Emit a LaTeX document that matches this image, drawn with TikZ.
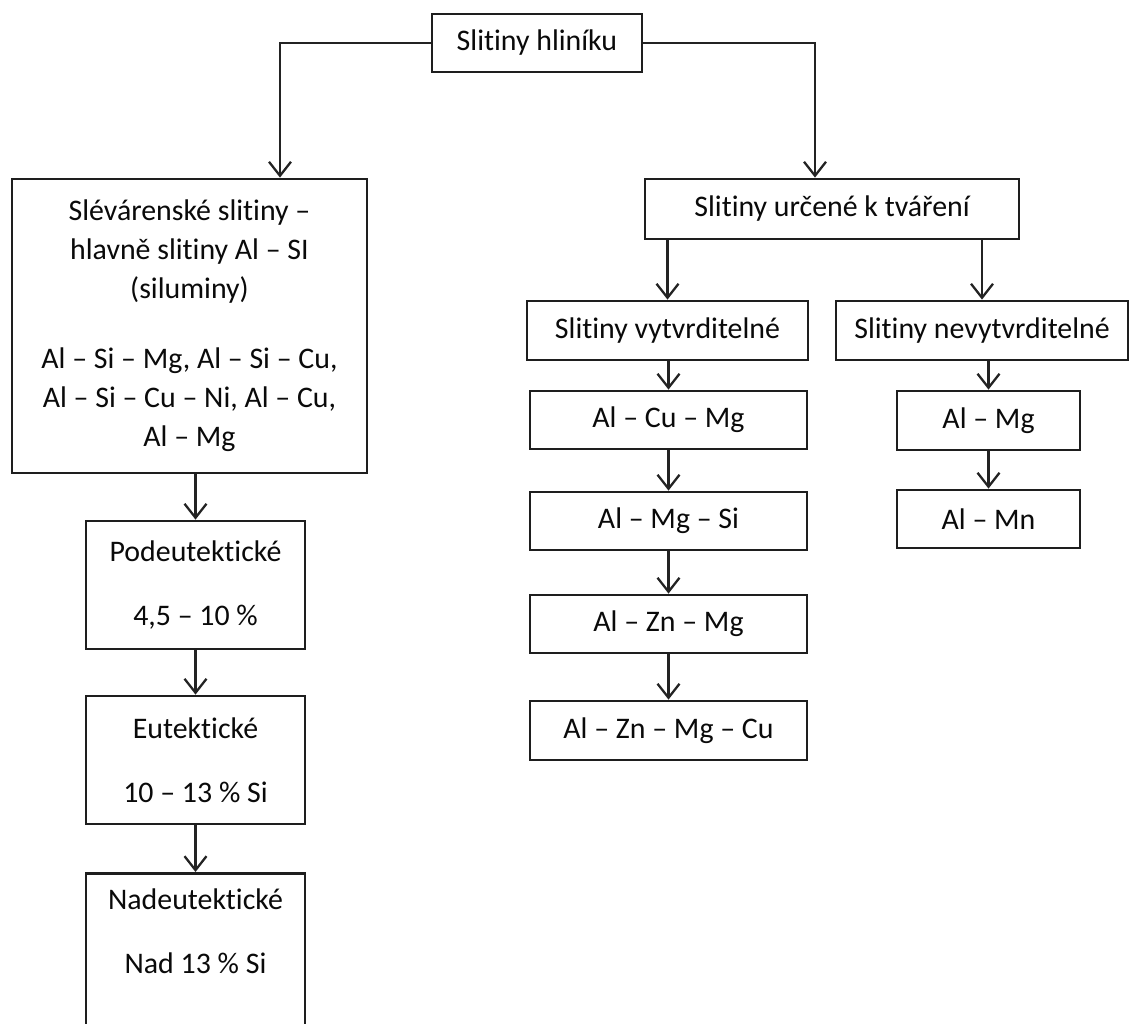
\documentclass[tikz,border=0pt]{standalone}
\usepackage{fontspec}
\setmainfont{Carlito}[RawFeature={-liga;-clig;-calt}]
\usepackage{tikz}
\usetikzlibrary{arrows.meta}
\definecolor{boxline}{RGB}{30, 30, 30}
\definecolor{flowline}{RGB}{35, 35, 35}
\definecolor{labeltext}{RGB}{10, 10, 10}

\begin{document}
\begin{tikzpicture}[x=0.02cm, y=-0.02cm,
    alloybox/.style={draw=boxline, line width=1.6pt, fill=white, text=labeltext, align=center, inner sep=2pt, font=\fontsize{17}{22.2}\selectfont},
    flow/.style={draw=flowline, line width=1.3pt, -{Straight Barb[length=0.28cm, width=0.44cm]}}]
    \useasboundingbox (0, 0) rectangle (1131, 1023);
    \clip (0, 0) rectangle (1131, 1023);

    % Root
    \node[alloybox, minimum width=4.2cm, minimum height=1.16cm] (top) at (537, 43) {Slitiny hliníku};

    % Casting alloys (left branch)
    \node[alloybox, minimum width=7.1cm, minimum height=5.88cm] (slev) at (189.5, 326) {Slévárenské slitiny –\\hlavně slitiny Al – SI\\(siluminy)\\[0.62cm]Al – Si – Mg, Al – Si – Cu,\\Al – Si – Cu – Ni, Al – Cu,\\Al – Mg};
    \node[alloybox, minimum width=4.38cm, minimum height=2.56cm] (pod) at (195.5, 585) {Podeutektické\\[0.5cm]4,5 – 10 \%};
    \node[alloybox, minimum width=4.38cm, minimum height=2.56cm] (eut) at (195.5, 760) {Eutektické\\[0.5cm]10 – 13 \% Si};
    \node[alloybox, minimum width=4.38cm, anchor=north, inner ysep=0.3cm, text depth=3cm] (nad) at (195.5, 872) {Nadeutektické\\[0.5cm]Nad 13 \% Si};

    % Wrought alloys (right branch)
    \node[alloybox, minimum width=7.48cm, minimum height=1.2cm] (urc) at (832, 209) {Slitiny určené k tváření};
    \node[alloybox, minimum width=5.62cm, minimum height=1.18cm] (vyt) at (667.5, 330.5) {Slitiny vytvrditelné};
    \node[alloybox, minimum width=5.84cm, minimum height=1.18cm] (nevyt) at (982, 330.5) {Slitiny nevytvrditelné};

    % Heat treatable series
    \node[alloybox, minimum width=5.54cm, minimum height=1.16cm] (acm) at (668.5, 420) {Al – Cu – Mg};
    \node[alloybox, minimum width=5.54cm, minimum height=1.16cm] (amgsi) at (668.5, 521) {Al – Mg – Si};
    \node[alloybox, minimum width=5.54cm, minimum height=1.16cm] (aznmg) at (668.5, 624) {Al – Zn – Mg};
    \node[alloybox, minimum width=5.54cm, minimum height=1.18cm] (aznmgcu) at (668.5, 730.5) {Al – Zn – Mg – Cu};

    % Non heat treatable series
    \node[alloybox, minimum width=3.66cm, minimum height=1.18cm] (amg) at (988.5, 420.5) {Al – Mg};
    \node[alloybox, minimum width=3.66cm, minimum height=1.16cm] (amn) at (988.5, 519) {Al – Mn};

    % Connectors
    \draw[flow] (top.west) -| ([xshift=1.81cm]slev.north);
    \draw[flow] (top.east) -| ([xshift=-0.34cm]urc.north);
    \draw[flow] (slev.south -| pod.north) -- (pod.north);
    \draw[flow] (pod.south) -- (eut.north);
    \draw[flow] (eut.south) -- (nad.north);
    \draw[flow] (urc.south -| vyt.north) -- (vyt.north);
    \draw[flow] (urc.south -| nevyt.north) -- (nevyt.north);
    \draw[flow] (vyt.south -| acm.north) -- (acm.north);
    \draw[flow] (acm.south) -- (amgsi.north);
    \draw[flow] (amgsi.south) -- (aznmg.north);
    \draw[flow] (aznmg.south) -- (aznmgcu.north);
    \draw[flow] (nevyt.south -| amg.north) -- (amg.north);
    \draw[flow] (amg.south) -- (amn.north);

\end{tikzpicture}
\end{document}
